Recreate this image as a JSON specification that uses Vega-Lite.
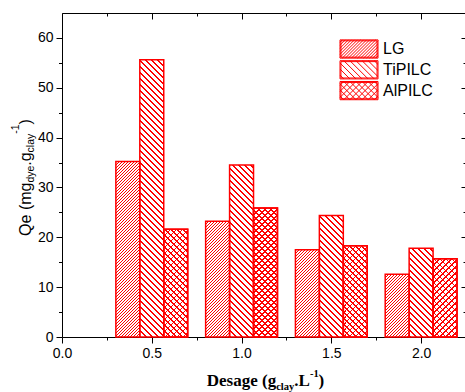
{
"$schema":"https://vega.github.io/schema/vega-lite/v6.json",
"width":404,"height":324,
"autosize":{"type":"none"},
"padding":{"left":62,"top":13,"right":0,"bottom":55},
"background":"white",
"params":[{"name":"st","value":[
{"offset":0,"color":"red"},{"offset":0.004,"color":"red"},{"offset":0.004,"color":"transparent"},{"offset":0.0125,"color":"transparent"},
{"offset":0.0125,"color":"red"},{"offset":0.0165,"color":"red"},{"offset":0.0165,"color":"transparent"},{"offset":0.025,"color":"transparent"},
{"offset":0.025,"color":"red"},{"offset":0.029,"color":"red"},{"offset":0.029,"color":"transparent"},{"offset":0.0375,"color":"transparent"},
{"offset":0.0375,"color":"red"},{"offset":0.0415,"color":"red"},{"offset":0.0415,"color":"transparent"},{"offset":0.05,"color":"transparent"},
{"offset":0.05,"color":"red"},{"offset":0.054,"color":"red"},{"offset":0.054,"color":"transparent"},{"offset":0.0625,"color":"transparent"},
{"offset":0.0625,"color":"red"},{"offset":0.0665,"color":"red"},{"offset":0.0665,"color":"transparent"},{"offset":0.075,"color":"transparent"},
{"offset":0.075,"color":"red"},{"offset":0.079,"color":"red"},{"offset":0.079,"color":"transparent"},{"offset":0.0875,"color":"transparent"},
{"offset":0.0875,"color":"red"},{"offset":0.0915,"color":"red"},{"offset":0.0915,"color":"transparent"},{"offset":0.1,"color":"transparent"},
{"offset":0.1,"color":"red"},{"offset":0.104,"color":"red"},{"offset":0.104,"color":"transparent"},{"offset":0.1125,"color":"transparent"},
{"offset":0.1125,"color":"red"},{"offset":0.1165,"color":"red"},{"offset":0.1165,"color":"transparent"},{"offset":0.125,"color":"transparent"},
{"offset":0.125,"color":"red"},{"offset":0.129,"color":"red"},{"offset":0.129,"color":"transparent"},{"offset":0.1375,"color":"transparent"},
{"offset":0.1375,"color":"red"},{"offset":0.1415,"color":"red"},{"offset":0.1415,"color":"transparent"},{"offset":0.15,"color":"transparent"},
{"offset":0.15,"color":"red"},{"offset":0.154,"color":"red"},{"offset":0.154,"color":"transparent"},{"offset":0.1625,"color":"transparent"},
{"offset":0.1625,"color":"red"},{"offset":0.1665,"color":"red"},{"offset":0.1665,"color":"transparent"},{"offset":0.175,"color":"transparent"},
{"offset":0.175,"color":"red"},{"offset":0.179,"color":"red"},{"offset":0.179,"color":"transparent"},{"offset":0.1875,"color":"transparent"},
{"offset":0.1875,"color":"red"},{"offset":0.1915,"color":"red"},{"offset":0.1915,"color":"transparent"},{"offset":0.2,"color":"transparent"},
{"offset":0.2,"color":"red"},{"offset":0.204,"color":"red"},{"offset":0.204,"color":"transparent"},{"offset":0.2125,"color":"transparent"},
{"offset":0.2125,"color":"red"},{"offset":0.2165,"color":"red"},{"offset":0.2165,"color":"transparent"},{"offset":0.225,"color":"transparent"},
{"offset":0.225,"color":"red"},{"offset":0.229,"color":"red"},{"offset":0.229,"color":"transparent"},{"offset":0.2375,"color":"transparent"},
{"offset":0.2375,"color":"red"},{"offset":0.2415,"color":"red"},{"offset":0.2415,"color":"transparent"},{"offset":0.25,"color":"transparent"},
{"offset":0.25,"color":"red"},{"offset":0.254,"color":"red"},{"offset":0.254,"color":"transparent"},{"offset":0.2625,"color":"transparent"},
{"offset":0.2625,"color":"red"},{"offset":0.2665,"color":"red"},{"offset":0.2665,"color":"transparent"},{"offset":0.275,"color":"transparent"},
{"offset":0.275,"color":"red"},{"offset":0.279,"color":"red"},{"offset":0.279,"color":"transparent"},{"offset":0.2875,"color":"transparent"},
{"offset":0.2875,"color":"red"},{"offset":0.2915,"color":"red"},{"offset":0.2915,"color":"transparent"},{"offset":0.3,"color":"transparent"},
{"offset":0.3,"color":"red"},{"offset":0.304,"color":"red"},{"offset":0.304,"color":"transparent"},{"offset":0.3125,"color":"transparent"},
{"offset":0.3125,"color":"red"},{"offset":0.3165,"color":"red"},{"offset":0.3165,"color":"transparent"},{"offset":0.325,"color":"transparent"},
{"offset":0.325,"color":"red"},{"offset":0.329,"color":"red"},{"offset":0.329,"color":"transparent"},{"offset":0.3375,"color":"transparent"},
{"offset":0.3375,"color":"red"},{"offset":0.3415,"color":"red"},{"offset":0.3415,"color":"transparent"},{"offset":0.35,"color":"transparent"},
{"offset":0.35,"color":"red"},{"offset":0.354,"color":"red"},{"offset":0.354,"color":"transparent"},{"offset":0.3625,"color":"transparent"},
{"offset":0.3625,"color":"red"},{"offset":0.3665,"color":"red"},{"offset":0.3665,"color":"transparent"},{"offset":0.375,"color":"transparent"},
{"offset":0.375,"color":"red"},{"offset":0.379,"color":"red"},{"offset":0.379,"color":"transparent"},{"offset":0.3875,"color":"transparent"},
{"offset":0.3875,"color":"red"},{"offset":0.3915,"color":"red"},{"offset":0.3915,"color":"transparent"},{"offset":0.4,"color":"transparent"},
{"offset":0.4,"color":"red"},{"offset":0.404,"color":"red"},{"offset":0.404,"color":"transparent"},{"offset":0.4125,"color":"transparent"},
{"offset":0.4125,"color":"red"},{"offset":0.4165,"color":"red"},{"offset":0.4165,"color":"transparent"},{"offset":0.425,"color":"transparent"},
{"offset":0.425,"color":"red"},{"offset":0.429,"color":"red"},{"offset":0.429,"color":"transparent"},{"offset":0.4375,"color":"transparent"},
{"offset":0.4375,"color":"red"},{"offset":0.4415,"color":"red"},{"offset":0.4415,"color":"transparent"},{"offset":0.45,"color":"transparent"},
{"offset":0.45,"color":"red"},{"offset":0.454,"color":"red"},{"offset":0.454,"color":"transparent"},{"offset":0.4625,"color":"transparent"},
{"offset":0.4625,"color":"red"},{"offset":0.4665,"color":"red"},{"offset":0.4665,"color":"transparent"},{"offset":0.475,"color":"transparent"},
{"offset":0.475,"color":"red"},{"offset":0.479,"color":"red"},{"offset":0.479,"color":"transparent"},{"offset":0.4875,"color":"transparent"},
{"offset":0.4875,"color":"red"},{"offset":0.4915,"color":"red"},{"offset":0.4915,"color":"transparent"},{"offset":0.5,"color":"transparent"},
{"offset":0.5,"color":"red"},{"offset":0.504,"color":"red"},{"offset":0.504,"color":"transparent"},{"offset":0.5125,"color":"transparent"},
{"offset":0.5125,"color":"red"},{"offset":0.5165,"color":"red"},{"offset":0.5165,"color":"transparent"},{"offset":0.525,"color":"transparent"},
{"offset":0.525,"color":"red"},{"offset":0.529,"color":"red"},{"offset":0.529,"color":"transparent"},{"offset":0.5375,"color":"transparent"},
{"offset":0.5375,"color":"red"},{"offset":0.5415,"color":"red"},{"offset":0.5415,"color":"transparent"},{"offset":0.55,"color":"transparent"},
{"offset":0.55,"color":"red"},{"offset":0.554,"color":"red"},{"offset":0.554,"color":"transparent"},{"offset":0.5625,"color":"transparent"},
{"offset":0.5625,"color":"red"},{"offset":0.5665,"color":"red"},{"offset":0.5665,"color":"transparent"},{"offset":0.575,"color":"transparent"},
{"offset":0.575,"color":"red"},{"offset":0.579,"color":"red"},{"offset":0.579,"color":"transparent"},{"offset":0.5875,"color":"transparent"},
{"offset":0.5875,"color":"red"},{"offset":0.5915,"color":"red"},{"offset":0.5915,"color":"transparent"},{"offset":0.6,"color":"transparent"},
{"offset":0.6,"color":"red"},{"offset":0.604,"color":"red"},{"offset":0.604,"color":"transparent"},{"offset":0.6125,"color":"transparent"},
{"offset":0.6125,"color":"red"},{"offset":0.6165,"color":"red"},{"offset":0.6165,"color":"transparent"},{"offset":0.625,"color":"transparent"},
{"offset":0.625,"color":"red"},{"offset":0.629,"color":"red"},{"offset":0.629,"color":"transparent"},{"offset":0.6375,"color":"transparent"},
{"offset":0.6375,"color":"red"},{"offset":0.6415,"color":"red"},{"offset":0.6415,"color":"transparent"},{"offset":0.65,"color":"transparent"},
{"offset":0.65,"color":"red"},{"offset":0.654,"color":"red"},{"offset":0.654,"color":"transparent"},{"offset":0.6625,"color":"transparent"},
{"offset":0.6625,"color":"red"},{"offset":0.6665,"color":"red"},{"offset":0.6665,"color":"transparent"},{"offset":0.675,"color":"transparent"},
{"offset":0.675,"color":"red"},{"offset":0.679,"color":"red"},{"offset":0.679,"color":"transparent"},{"offset":0.6875,"color":"transparent"},
{"offset":0.6875,"color":"red"},{"offset":0.6915,"color":"red"},{"offset":0.6915,"color":"transparent"},{"offset":0.7,"color":"transparent"},
{"offset":0.7,"color":"red"},{"offset":0.704,"color":"red"},{"offset":0.704,"color":"transparent"},{"offset":0.7125,"color":"transparent"},
{"offset":0.7125,"color":"red"},{"offset":0.7165,"color":"red"},{"offset":0.7165,"color":"transparent"},{"offset":0.725,"color":"transparent"},
{"offset":0.725,"color":"red"},{"offset":0.729,"color":"red"},{"offset":0.729,"color":"transparent"},{"offset":0.7375,"color":"transparent"},
{"offset":0.7375,"color":"red"},{"offset":0.7415,"color":"red"},{"offset":0.7415,"color":"transparent"},{"offset":0.75,"color":"transparent"},
{"offset":0.75,"color":"red"},{"offset":0.754,"color":"red"},{"offset":0.754,"color":"transparent"},{"offset":0.7625,"color":"transparent"},
{"offset":0.7625,"color":"red"},{"offset":0.7665,"color":"red"},{"offset":0.7665,"color":"transparent"},{"offset":0.775,"color":"transparent"},
{"offset":0.775,"color":"red"},{"offset":0.779,"color":"red"},{"offset":0.779,"color":"transparent"},{"offset":0.7875,"color":"transparent"},
{"offset":0.7875,"color":"red"},{"offset":0.7915,"color":"red"},{"offset":0.7915,"color":"transparent"},{"offset":0.8,"color":"transparent"},
{"offset":0.8,"color":"red"},{"offset":0.804,"color":"red"},{"offset":0.804,"color":"transparent"},{"offset":0.8125,"color":"transparent"},
{"offset":0.8125,"color":"red"},{"offset":0.8165,"color":"red"},{"offset":0.8165,"color":"transparent"},{"offset":0.825,"color":"transparent"},
{"offset":0.825,"color":"red"},{"offset":0.829,"color":"red"},{"offset":0.829,"color":"transparent"},{"offset":0.8375,"color":"transparent"},
{"offset":0.8375,"color":"red"},{"offset":0.8415,"color":"red"},{"offset":0.8415,"color":"transparent"},{"offset":0.85,"color":"transparent"},
{"offset":0.85,"color":"red"},{"offset":0.854,"color":"red"},{"offset":0.854,"color":"transparent"},{"offset":0.8625,"color":"transparent"},
{"offset":0.8625,"color":"red"},{"offset":0.8665,"color":"red"},{"offset":0.8665,"color":"transparent"},{"offset":0.875,"color":"transparent"},
{"offset":0.875,"color":"red"},{"offset":0.879,"color":"red"},{"offset":0.879,"color":"transparent"},{"offset":0.8875,"color":"transparent"},
{"offset":0.8875,"color":"red"},{"offset":0.8915,"color":"red"},{"offset":0.8915,"color":"transparent"},{"offset":0.9,"color":"transparent"},
{"offset":0.9,"color":"red"},{"offset":0.904,"color":"red"},{"offset":0.904,"color":"transparent"},{"offset":0.9125,"color":"transparent"},
{"offset":0.9125,"color":"red"},{"offset":0.9165,"color":"red"},{"offset":0.9165,"color":"transparent"},{"offset":0.925,"color":"transparent"},
{"offset":0.925,"color":"red"},{"offset":0.929,"color":"red"},{"offset":0.929,"color":"transparent"},{"offset":0.9375,"color":"transparent"},
{"offset":0.9375,"color":"red"},{"offset":0.9415,"color":"red"},{"offset":0.9415,"color":"transparent"},{"offset":0.95,"color":"transparent"},
{"offset":0.95,"color":"red"},{"offset":0.954,"color":"red"},{"offset":0.954,"color":"transparent"},{"offset":0.9625,"color":"transparent"},
{"offset":0.9625,"color":"red"},{"offset":0.9665,"color":"red"},{"offset":0.9665,"color":"transparent"},{"offset":0.975,"color":"transparent"},
{"offset":0.975,"color":"red"},{"offset":0.979,"color":"red"},{"offset":0.979,"color":"transparent"},{"offset":0.9875,"color":"transparent"},
{"offset":0.9875,"color":"red"},{"offset":0.9915,"color":"red"},{"offset":0.9915,"color":"transparent"},{"offset":1,"color":"transparent"}
]}],
"data":{"values":[
{"Dosage":0.5,"Sample":"LG","Qe":35.2},
{"Dosage":0.5,"Sample":"TiPILC","Qe":55.6},
{"Dosage":0.5,"Sample":"AlPILC","Qe":21.6},
{"Dosage":1.0,"Sample":"LG","Qe":23.2},
{"Dosage":1.0,"Sample":"TiPILC","Qe":34.5},
{"Dosage":1.0,"Sample":"AlPILC","Qe":25.9},
{"Dosage":1.5,"Sample":"LG","Qe":17.5},
{"Dosage":1.5,"Sample":"TiPILC","Qe":24.4},
{"Dosage":1.5,"Sample":"AlPILC","Qe":18.3},
{"Dosage":2.0,"Sample":"LG","Qe":12.6},
{"Dosage":2.0,"Sample":"TiPILC","Qe":17.8},
{"Dosage":2.0,"Sample":"AlPILC","Qe":15.7}
]},
"transform":[
{"calculate":"indexof(['LG','TiPILC','AlPILC'], datum.Sample)","as":"i"},
{"calculate":"datum.Dosage - 0.2 + datum.i*0.4/3","as":"x0"},
{"calculate":"datum.x0 + 0.4/3","as":"x1"}
],
"layer":[
{
"mark":{"type":"bar","stroke":"red","strokeWidth":1.5,
"fill":{"expr":"datum.Sample=='TiPILC' ? {gradient:'linear',x1:0,y1:1,x2:480*24/(576+pow(datum.Qe*4.9846,2)),y2:1-480*datum.Qe*4.9846/(576+pow(datum.Qe*4.9846,2)),stops:st} : {gradient:'linear',x1:0,y1:0,x2:(datum.Sample=='LG'?240:480)*24/(576+pow(datum.Qe*4.9846,2)),y2:(datum.Sample=='LG'?240:480)*datum.Qe*4.9846/(576+pow(datum.Qe*4.9846,2)),stops:st}"}},
"encoding":{
"x":{"field":"x0","type":"quantitative","scale":{"domain":[0,2.25],"nice":false,"zero":false},
"axis":{"orient":"bottom","values":[0,0.25,0.5,0.75,1,1.25,1.5,1.75,2],
"labelExpr":"datum.value % 0.5 == 0 ? format(datum.value, '.1f') : ''",
"tickSize":{"condition":{"test":"datum.value % 0.5 == 0","value":6},"value":3},
"title":"Desage (g","titleFont":"Liberation Serif","titleFontWeight":"bold","titleFontSize":17,"titleAlign":"left","titleBaseline":"alphabetic","titleX":144.3,"titleY":48}},
"x2":{"field":"x1"},
"y":{"field":"Qe","type":"quantitative","stack":null,"scale":{"domain":[0,65],"nice":false},
"axis":{"orient":"left","values":[0,5,10,15,20,25,30,35,40,45,50,55,60],
"labelExpr":"datum.value % 10 == 0 ? datum.label : ''",
"tickSize":{"condition":{"test":"datum.value % 10 == 0","value":6},"value":3.5},
"title":"Qe (mg","titleFont":"Liberation Sans","titleFontWeight":"normal","titleFontSize":16,"titleAlign":"left","titleAngle":-90,"titleBaseline":"alphabetic","titleX":-32,"titleY":222.4}},
"y2":{"datum":0}
}
},
{
"transform":[{"filter":"datum.Sample=='AlPILC'"}],
"mark":{"type":"bar","stroke":"red","strokeWidth":1.5,
"fill":{"expr":"{gradient:'linear',x1:0,y1:1,x2:480*24/(576+pow(datum.Qe*4.9846,2)),y2:1-480*datum.Qe*4.9846/(576+pow(datum.Qe*4.9846,2)),stops:st}"}},
"encoding":{
"x":{"field":"x0","type":"quantitative","scale":{"domain":[0,2.25],"nice":false,"zero":false},
"axis":{"orient":"top","values":[0,0.25,0.5,0.75,1,1.25,1.5,1.75,2],"labels":false,
"tickSize":{"condition":{"test":"datum.value % 0.5 == 0","value":-6},"value":-3},"title":null}},
"x2":{"field":"x1"},
"y":{"field":"Qe","type":"quantitative","stack":null,"scale":{"domain":[0,65],"nice":false},
"axis":{"orient":"right","values":[0,5,10,15,20,25,30,35,40,45,50,55,60],"labels":false,
"tickSize":{"condition":{"test":"datum.value % 10 == 0","value":-5},"value":-3},"title":null}},
"y2":{"datum":0}
}
},
{
"transform":[{"filter":"datum.Sample=='LG'"}],
"mark":{"type":"point","opacity":0,"filled":false,"size":361},
"encoding":{
"x":{"field":"Dosage","type":"quantitative","scale":{"domain":[0,2.25],"nice":false,"zero":false},"axis":null},
"y":{"field":"Qe","type":"quantitative","scale":{"domain":[0,65],"nice":false},"axis":null},
"shape":{"field":"Sample","type":"nominal",
"scale":{"domain":["LG"],
"range":["M-2 -0.96H2V0.96H-2ZM-1.9 -0.86H1.9V0.86H-1.9ZM-2 -0.72L-1.76 -0.96M-2 -0.4L-1.44 -0.96M-2 -0.08L-1.12 -0.96M-2 0.24L-0.8 -0.96M-2 0.56L-0.48 -0.96M-2 0.88L-0.16 -0.96M-1.76 0.96L0.16 -0.96M-1.44 0.96L0.48 -0.96M-1.12 0.96L0.8 -0.96M-0.8 0.96L1.12 -0.96M-0.48 0.96L1.44 -0.96M-0.16 0.96L1.76 -0.96M0.16 0.96L2 -0.88M0.48 0.96L2 -0.56M0.8 0.96L2 -0.24M1.12 0.96L2 0.08M1.44 0.96L2 0.4M1.76 0.96L2 0.72"]},
"legend":{"orient":"none","legendX":287,"legendY":26,"title":null,"padding":0,
"symbolSize":361,"symbolStrokeColor":"red","symbolFillColor":"transparent","symbolStrokeWidth":1,"symbolOpacity":1,
"labelFont":"Liberation Sans","labelFontSize":16,"labelColor":"black","labelOffset":14}}
}
},
{
"transform":[{"filter":"datum.Sample=='TiPILC'"}],
"mark":{"type":"point","opacity":0,"filled":false,"size":361},
"encoding":{
"x":{"field":"Dosage","type":"quantitative","scale":{"domain":[0,2.25],"nice":false,"zero":false},"axis":null},
"y":{"field":"Qe","type":"quantitative","scale":{"domain":[0,65],"nice":false},"axis":null},
"shape":{"field":"Sample","type":"nominal",
"scale":{"domain":["TiPILC"],
"range":["M-2 -0.96H2V0.96H-2ZM-1.9 -0.86H1.9V0.86H-1.9ZM-2 0.56L-1.6 0.96M-2 -0.08L-0.96 0.96M-2 -0.72L-0.32 0.96M-1.6 -0.96L0.32 0.96M-0.96 -0.96L0.96 0.96M-0.32 -0.96L1.6 0.96M0.32 -0.96L2 0.72M0.96 -0.96L2 0.08M1.6 -0.96L2 -0.56"]},
"legend":{"orient":"none","legendX":287,"legendY":46.8,"title":null,"padding":0,
"symbolSize":361,"symbolStrokeColor":"red","symbolFillColor":"transparent","symbolStrokeWidth":1,"symbolOpacity":1,
"labelFont":"Liberation Sans","labelFontSize":16,"labelColor":"black","labelOffset":14}}
}
},
{
"transform":[{"filter":"datum.Sample=='AlPILC'"}],
"mark":{"type":"point","opacity":0,"filled":false,"size":361},
"encoding":{
"x":{"field":"Dosage","type":"quantitative","scale":{"domain":[0,2.25],"nice":false,"zero":false},"axis":null},
"y":{"field":"Qe","type":"quantitative","scale":{"domain":[0,65],"nice":false},"axis":null},
"shape":{"field":"Sample","type":"nominal",
"scale":{"domain":["AlPILC"],
"range":["M-2 -0.96H2V0.96H-2ZM-1.9 -0.86H1.9V0.86H-1.9ZM-2 0.56L-1.6 0.96M-2 -0.08L-0.96 0.96M-2 -0.72L-0.32 0.96M-1.6 -0.96L0.32 0.96M-0.96 -0.96L0.96 0.96M-0.32 -0.96L1.6 0.96M0.32 -0.96L2 0.72M0.96 -0.96L2 0.08M1.6 -0.96L2 -0.56M-2 -0.56L-1.6 -0.96M-2 0.08L-0.96 -0.96M-2 0.72L-0.32 -0.96M-1.6 0.96L0.32 -0.96M-0.96 0.96L0.96 -0.96M-0.32 0.96L1.6 -0.96M0.32 0.96L2 -0.72M0.96 0.96L2 -0.08M1.6 0.96L2 0.56"]},
"legend":{"orient":"none","legendX":287,"legendY":67.6,"title":null,"padding":0,
"symbolSize":361,"symbolStrokeColor":"red","symbolFillColor":"transparent","symbolStrokeWidth":1,"symbolOpacity":1,
"labelFont":"Liberation Sans","labelFontSize":16,"labelColor":"black","labelOffset":14}}
}
},
{
"mark":{"type":"point","opacity":0},
"encoding":{
"x":{"field":"Dosage","type":"quantitative","scale":{"domain":[0,2.25],"nice":false,"zero":false},
"axis":{"orient":"bottom","domain":false,"ticks":false,"labels":false,"title":"clay","titleFont":"Liberation Serif","titleFontWeight":"bold","titleFontSize":10.5,"titleAlign":"left","titleBaseline":"alphabetic","titleX":213.7,"titleY":52}},
"y":{"field":"Qe","type":"quantitative","scale":{"domain":[0,65],"nice":false},
"axis":{"orient":"left","domain":false,"ticks":false,"labels":false,"title":"dye","titleFont":"Liberation Sans","titleFontWeight":"normal","titleFontSize":10.5,"titleAlign":"left","titleAngle":-90,"titleBaseline":"alphabetic","titleX":-29,"titleY":169.1}}
}
},
{
"mark":{"type":"point","opacity":0},
"encoding":{
"x":{"field":"Dosage","type":"quantitative","scale":{"domain":[0,2.25],"nice":false,"zero":false},
"axis":{"orient":"bottom","domain":false,"ticks":false,"labels":false,"title":".L","titleFont":"Liberation Serif","titleFontWeight":"bold","titleFontSize":17,"titleAlign":"left","titleBaseline":"alphabetic","titleX":231.8,"titleY":48}},
"y":{"field":"Qe","type":"quantitative","scale":{"domain":[0,65],"nice":false},
"axis":{"orient":"left","domain":false,"ticks":false,"labels":false,"title":".g","titleFont":"Liberation Sans","titleFontWeight":"normal","titleFontSize":16,"titleAlign":"left","titleAngle":-90,"titleBaseline":"alphabetic","titleX":-32,"titleY":152.2}}
}
},
{
"mark":{"type":"point","opacity":0},
"encoding":{
"x":{"field":"Dosage","type":"quantitative","scale":{"domain":[0,2.25],"nice":false,"zero":false},
"axis":{"orient":"bottom","domain":false,"ticks":false,"labels":false,"title":"-1","titleFont":"Liberation Serif","titleFontWeight":"bold","titleFontSize":10.5,"titleAlign":"left","titleBaseline":"alphabetic","titleX":247.4,"titleY":39.5}},
"y":{"field":"Qe","type":"quantitative","scale":{"domain":[0,65],"nice":false},
"axis":{"orient":"left","domain":false,"ticks":false,"labels":false,"title":"clay","titleFont":"Liberation Sans","titleFontWeight":"normal","titleFontSize":10.5,"titleAlign":"left","titleAngle":-90,"titleBaseline":"alphabetic","titleX":-29,"titleY":138.9}}
}
},
{
"mark":{"type":"point","opacity":0},
"encoding":{
"x":{"field":"Dosage","type":"quantitative","scale":{"domain":[0,2.25],"nice":false,"zero":false},
"axis":{"orient":"bottom","domain":false,"ticks":false,"labels":false,"title":")","titleFont":"Liberation Serif","titleFontWeight":"bold","titleFontSize":17,"titleAlign":"left","titleBaseline":"alphabetic","titleX":256.1,"titleY":48}},
"y":{"field":"Qe","type":"quantitative","scale":{"domain":[0,65],"nice":false},
"axis":{"orient":"left","domain":false,"ticks":false,"labels":false,"title":"-1","titleFont":"Liberation Sans","titleFontWeight":"normal","titleFontSize":10.5,"titleAlign":"left","titleAngle":-90,"titleBaseline":"alphabetic","titleX":-43.5,"titleY":120.2}}
}
},
{
"mark":{"type":"point","opacity":0},
"encoding":{
"x":{"field":"Dosage","type":"quantitative","scale":{"domain":[0,2.25],"nice":false,"zero":false},"axis":null},
"y":{"field":"Qe","type":"quantitative","scale":{"domain":[0,65],"nice":false},
"axis":{"orient":"left","domain":false,"ticks":false,"labels":false,"title":")","titleFont":"Liberation Sans","titleFontWeight":"normal","titleFontSize":16,"titleAlign":"left","titleAngle":-90,"titleBaseline":"alphabetic","titleX":-32,"titleY":110.9}}
}
}
],
"resolve":{"axis":{"x":"independent","y":"independent"},"scale":{"shape":"independent"},"legend":{"shape":"independent"}},
"config":{
"view":{"stroke":null},
"axis":{"grid":false,"domainColor":"black","tickColor":"black","labelColor":"black","titleColor":"black","labelFont":"Liberation Sans","labelFontSize":14,"labelPadding":3,"labelFlush":false,"domainWidth":1,"tickWidth":1,"zindex":1}
}
}
